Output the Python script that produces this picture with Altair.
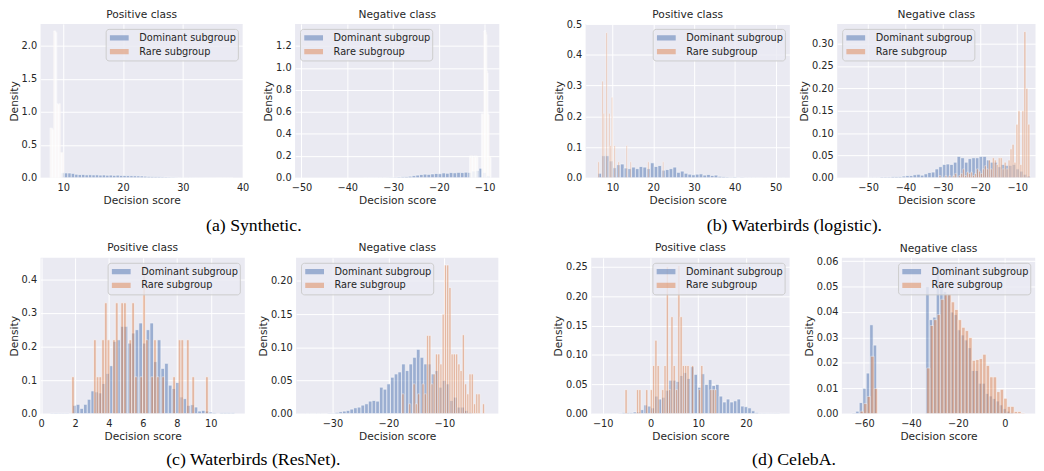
import altair as alt
import pandas as pd

FONT = "DejaVu Sans"
TEXT = "#262626"
BG = "#EAEAF2"
GROUPS = ["Dominant subgroup", "Rare subgroup"]
COLORS = ["#4C72B0", "#DD8452"]

# ---------------- (a) Synthetic ----------------
A_POS_DOM_START, A_POS_DOM_W = 9.6, 0.576
A_POS_DOM = [0.078, 0.075, 0.074, 0.068, 0.055, 0.050, 0.052, 0.046, 0.048, 0.045,
             0.046, 0.042, 0.044, 0.040, 0.042, 0.038, 0.041, 0.037, 0.036, 0.034,
             0.033, 0.031, 0.030, 0.028, 0.025, 0.022, 0.021, 0.019, 0.017, 0.015,
             0.013, 0.011, 0.009, 0.007, 0.005, 0.004, 0.003, 0.002, 0.002, 0.001,
             0.001, 0.0008, 0.0006, 0.0005, 0.0005, 0.0004, 0.0003, 0.0003, 0.0002, 0.0002]
A_POS_RARE_START, A_POS_RARE_W = 7.8, 0.1
A_POS_RARE = [0.75, 0.75, 0.74, 0.75, 0.73, 0.72,
              2.22, 2.23, 2.22, 2.21, 2.20,
              1.12, 1.12, 1.11, 1.10, 1.12, 1.12,
              0.38, 0.38, 0.37, 0.38, 0.38]

A_NEG_DOM_START, A_NEG_DOM_W = -49.4, 0.812
A_NEG_DOM = [0, 0, 0, 0, 0, 0, 0, 0, 0, 0,
             0, 0, 0, 0, 0, 0, 0.001, 0.001, 0.001, 0.001,
             0.003, 0.002, 0.004, 0.005, 0.006, 0.008, 0.010, 0.012, 0.015, 0.020,
             0.025, 0.030, 0.034, 0.032, 0.036, 0.040, 0.038, 0.045, 0.042, 0.048,
             0.046, 0.050, 0.048, 0.052, 0.050, 0.062, 0.068, 0.088, 0.050, 0.020]
A_NEG_RARE_START, A_NEG_RARE_W = -13.3, 0.13
A_NEG_RARE = [0.19, 0.20, 0.18, 0.19, 0.20, 0.19, 0.18, 0.19, 0.20, 0.19, 0.18, 0.20, 0.19, 0.19,
              0, 0, 0, 0, 0, 0,
              0.58, 0.58, 0.57, 0.58,
              1.33, 1.34, 1.34, 1.32, 1.30,
              0.97, 0.95,
              0.58, 0.57,
              0.19, 0.19, 0.18]

# ---------------- (b) Waterbirds (logistic) ----------------
B_POS_DOM_START, B_POS_DOM_W = 6.4, 0.92
B_POS_DOM = [0.015, 0.072, 0.072, 0.055, 0.033, 0.043, 0.045, 0.032, 0.030, 0.035,
             0.030, 0.037, 0.035, 0.030, 0.049, 0.037, 0.040, 0.025, 0.027, 0.030,
             0.035, 0.018, 0.022, 0.015, 0.012, 0.010, 0.012, 0.013, 0.009, 0.011,
             0.008, 0.009, 0.005, 0.004, 0.003, 0.002, 0.003, 0.001, 0.002, 0.001,
             0.001, 0.0005, 0.0005, 0.0005, 0, 0.0005, 0, 0, 0, 0.0005]
B_POS_RARE_START, B_POS_RARE_W = 6.4, 0.33
B_POS_RARE = [0.0525, 0, 0, 0.315, 0.21, 0, 0.4725, 0, 0.21, 0.105,
              0.2625, 0, 0.105, 0, 0, 0.0525, 0, 0, 0, 0,
              0, 0.105, 0, 0, 0.0525, 0, 0, 0, 0, 0,
              0, 0, 0, 0, 0, 0, 0, 0.0525, 0, 0,
              0, 0, 0, 0, 0, 0, 0, 0, 0.0525]

B_NEG_DOM_START, B_NEG_DOM_W = -55.7, 0.985
B_NEG_DOM = [0, 0, 0, 0, 0, 0.001, 0.001, 0.001, 0.001, 0.002,
             0.002, 0.002, 0.003, 0.003, 0.003, 0.004, 0.005, 0.005, 0.007, 0.008,
             0.006, 0.009, 0.012, 0.013, 0.020, 0.025, 0.030, 0.031, 0.030, 0.035,
             0.048, 0.045, 0.035, 0.043, 0.045, 0.045, 0.048, 0.048, 0.040, 0.035,
             0.035, 0.025, 0.030, 0.028, 0.028, 0.030, 0.020, 0.015, 0.008, 0.004]
B_NEG_RARE_START, B_NEG_RARE_W = -31.0, 0.53
B_NEG_RARE = [0.005, 0, 0, 0.005, 0, 0.005, 0, 0.005, 0.010, 0,
              0.005, 0.010, 0.020, 0.005, 0.013, 0.010, 0.013, 0.005, 0.010, 0.020,
              0.015, 0.010, 0.020, 0.027, 0.020, 0.040, 0.020, 0.045, 0.040, 0.030,
              0.045, 0.045, 0.020, 0.035, 0.020, 0.040, 0.065, 0.075, 0.035, 0.120,
              0.150, 0.030, 0.150, 0.327, 0.200, 0.120]

# ---------------- (c) Waterbirds (ResNet) ----------------
C_POS_DOM_START, C_POS_DOM_W = 0.55, 0.217
C_POS_DOM = [0.002, 0.002, 0.002, 0.002, 0.002, 0, 0.025, 0.028, 0.016, 0.028,
             0.043, 0.068, 0.065, 0.062, 0.090, 0.120, 0.143, 0.215, 0.220, 0.260,
             0.260, 0.210, 0.240, 0.250, 0.270, 0.210, 0.250, 0.270, 0.155, 0.220,
             0.135, 0.150, 0.085, 0.075, 0.093, 0.050, 0.045, 0.025, 0.027, 0.020,
             0.008, 0.010, 0.008, 0.005, 0.003, 0, 0.003, 0.003, 0.003, 0.003]
C_POS_RARE_START, C_POS_RARE_W = 1.80, 0.161
C_POS_RARE = [0.11, 0, 0, 0, 0, 0, 0, 0, 0.22, 0.11,
              0.11, 0.22, 0.33, 0.22, 0, 0.22, 0.33, 0, 0.33, 0.33,
              0, 0.22, 0.33, 0.11, 0, 0.11, 0.44, 0.22, 0, 0.11,
              0.22, 0.11, 0, 0.11, 0, 0, 0, 0.11, 0, 0.22,
              0.22, 0, 0.22, 0, 0.11, 0, 0, 0, 0, 0.11]

C_NEG_DOM_START, C_NEG_DOM_W = -34.8, 0.66
C_NEG_DOM = [0.0005, 0.0005, 0.0005, 0.0005, 0.0005, 0.0005, 0.001, 0.001, 0.002, 0.003,
             0.004, 0.005, 0.007, 0.009, 0.010, 0.013, 0.015, 0.019, 0.020, 0.019,
             0.040, 0.037, 0.045, 0.055, 0.060, 0.063, 0.075, 0.065, 0.075, 0.085,
             0.097, 0.085, 0.075, 0.075, 0.060, 0.065, 0.040, 0.050, 0.045, 0.020,
             0.025, 0.010, 0.010, 0.005, 0.002]
C_NEG_RARE_START, C_NEG_RARE_W = -17.6, 0.4
C_NEG_RARE = [0.030, 0, 0, 0.015, 0, 0.045, 0.015, 0.030, 0, 0.045,
              0.030, 0.118, 0.118, 0.045, 0.060, 0.090, 0.090, 0.075, 0.150, 0.224,
              0.224, 0.190, 0.090, 0.090, 0.090, 0.075, 0.065, 0.119, 0.045, 0.030,
              0.060, 0.060, 0.015, 0.030, 0.030, 0, 0.015]

# ---------------- (d) CelebA ----------------
D_POS_DOM_START, D_POS_DOM_W = -10.4, 0.75
D_POS_DOM = [0.0005, 0.0005, 0.0005, 0.0005, 0.0005, 0.001, 0.002, 0.002, 0.002, 0.003,
             0.003, 0.007, 0.015, 0.013, 0.010, 0.030, 0.025, 0.028, 0.040, 0.057,
             0.057, 0.055, 0.065, 0.070, 0.060, 0.080, 0.067, 0.045, 0.068, 0.050,
             0.058, 0.048, 0.050, 0.030, 0.020, 0.025, 0.020, 0.022, 0.025, 0.013,
             0.012, 0.010, 0.005, 0.002, 0.001, 0.001, 0.001, 0.001, 0.001, 0.001]
D_POS_RARE_START, D_POS_RARE_W = -5.35, 0.48
D_POS_RARE = [0.041, 0, 0, 0, 0, 0.041, 0.041, 0, 0, 0.041,
              0, 0.041, 0.082, 0.125, 0.082, 0, 0.041, 0.082, 0.250, 0.041,
              0.165, 0.082, 0.041, 0.252, 0.165, 0.082, 0.082, 0.082, 0, 0.082,
              0, 0, 0.041, 0.082, 0, 0, 0, 0.041, 0.041, 0.041]

D_NEG_DOM_START, D_NEG_DOM_W = -65.0, 1.49
D_NEG_DOM = [0.0003, 0.001, 0.0044, 0.010, 0.016, 0.035, 0.027, 0, 0, 0,
             0, 0, 0, 0, 0, 0, 0, 0, 0, 0,
             0, 0.050, 0.037, 0.038, 0.058, 0.050, 0.048, 0.047, 0.040, 0.039,
             0.033, 0.031, 0.029, 0.026, 0.017, 0.017, 0.012, 0.012, 0.008, 0.007,
             0.006, 0.005, 0.0035, 0.002, 0.001, 0.0005, 0, 0, 0, 0]
D_NEG_RARE_START, D_NEG_RARE_W = -64.6, 1.49
D_NEG_RARE = [0, 0, 0.001, 0.004, 0.0068, 0.0226, 0.0099, 0, 0, 0,
              0, 0, 0, 0, 0, 0, 0, 0, 0, 0,
              0, 0.018, 0.0347, 0.037, 0.039, 0.045, 0.047, 0.047, 0.044, 0.041,
              0.037, 0.034, 0.0327, 0.030, 0.021, 0.0213, 0.0217, 0.0234, 0.019, 0.0145,
              0.0145, 0.0087, 0.0096, 0.0061, 0.0029, 0.0029, 0.0009, 0.0009, 0.0003, 0]


def hist_rows(start, width, heights, group, edge):
    out = []
    for i, h in enumerate(heights):
        if h > 0:
            out.append({"x0": start + i * width, "x1": start + (i + 1) * width,
                        "h": h, "grp": group, "edge": edge})
    return out


TITLE_SHIFT = -7.0


def panel(title, dom, rare, xdom, xticks, ydom, yticks, yfmt, orient, width,
          height=158, title_offset=2.7, rare_edge=0.7):
    df = pd.DataFrame(hist_rows(*dom, GROUPS[0], 0.7) +
                      hist_rows(*rare, GROUPS[1], rare_edge))
    legend = alt.Legend(
        title=None, orient=orient, offset=5, padding=2,
        fillColor="rgba(234,234,242,0.8)", strokeColor="#CCCCCC", cornerRadius=3,
        symbolType="M-1,-0.28H1V0.28H-1Z", symbolSize=361, symbolOpacity=0.5,
        symbolStrokeWidth=0, clipHeight=14, symbolOffset=2.3, rowPadding=0,
        labelFont=FONT, labelFontSize=9.9, labelColor=TEXT, labelOffset=10.7,
    )
    return alt.Chart(df).mark_bar(
        opacity=0.5, stroke="white", clip=True
    ).encode(
        x=alt.X("x0:Q", scale=alt.Scale(domain=xdom, nice=False, zero=False, padding=0),
                axis=alt.Axis(values=xticks, format="d", title="Decision score",
                              labelPadding=5, titlePadding=2, labelFlush=False,
                              labelOverlap=False)),
        x2="x1",
        y=alt.Y("h:Q", stack=False,
                scale=alt.Scale(domain=ydom, nice=False, zero=True, padding=0),
                axis=alt.Axis(values=yticks, format=yfmt, title="Density",
                              labelPadding=4, titlePadding=2, labelOverlap=False)),
        y2=alt.datum(0),
        color=alt.Color("grp:N", scale=alt.Scale(domain=GROUPS, range=COLORS),
                        legend=legend),
        strokeWidth=alt.StrokeWidth("edge:Q", scale=None),
    ).properties(
        width=width, height=height,
        title=alt.Title(title, fontSize=10.8, font=FONT, fontWeight="normal",
                        color=TEXT, offset=title_offset + TITLE_SHIFT,
                        baseline="alphabetic", frame="group", anchor="middle"),
    )


def group(left, right, caption, spacing, cap_offset):
    return alt.hconcat(
        left, right, spacing=spacing, bounds="flush",
        title=alt.Title(caption, orient="bottom", fontSize=18, font="Liberation Serif",
                        fontWeight="normal", color="black", offset=cap_offset,
                        baseline="top", anchor="middle"),
    ).resolve_scale(color="independent")


p1 = panel("Positive class", (A_POS_DOM_START, A_POS_DOM_W, A_POS_DOM),
           (A_POS_RARE_START, A_POS_RARE_W, A_POS_RARE),
           [6.2, 40.03], [10, 20, 30, 40], [0, 2.334], [0, 0.5, 1.0, 1.5, 2.0], ".1f",
           "top-right", 205, height=156, rare_edge=1.1)
p2 = panel("Negative class", (A_NEG_DOM_START, A_NEG_DOM_W, A_NEG_DOM),
           (A_NEG_RARE_START, A_NEG_RARE_W, A_NEG_RARE),
           [-51.4, -6.8], [-50, -40, -30, -20, -10], [0, 1.40],
           [0, 0.2, 0.4, 0.6, 0.8, 1.0, 1.2], ".1f", "top-left", 207, height=156,
           rare_edge=1.1)
p3 = panel("Positive class", (B_POS_DOM_START, B_POS_DOM_W, B_POS_DOM),
           (B_POS_RARE_START, B_POS_RARE_W, B_POS_RARE),
           [3.4, 53.5], [10, 20, 30, 40, 50], [0, 0.5005],
           [0, 0.1, 0.2, 0.3, 0.4, 0.5], ".1f", "top-right", 207, height=156,
           title_offset=-2.3)
p4 = panel("Negative class", (B_NEG_DOM_START, B_NEG_DOM_W, B_NEG_DOM),
           (B_NEG_RARE_START, B_NEG_RARE_W, B_NEG_RARE),
           [-58.3, -5.1], [-50, -40, -30, -20, -10], [0, 0.344],
           [0, 0.05, 0.10, 0.15, 0.20, 0.25, 0.30], ".2f", "top-left", 201, height=156)
p5 = panel("Positive class", (C_POS_DOM_START, C_POS_DOM_W, C_POS_DOM),
           (C_POS_RARE_START, C_POS_RARE_W, C_POS_RARE),
           [-0.03, 12.0], [0, 2, 4, 6, 8, 10], [0, 0.4636],
           [0, 0.1, 0.2, 0.3, 0.4], ".1f", "top-right", 207)
p6 = panel("Negative class", (C_NEG_DOM_START, C_NEG_DOM_W, C_NEG_DOM),
           (C_NEG_RARE_START, C_NEG_RARE_W, C_NEG_RARE),
           [-36.5, -0.35], [-30, -20, -10], [0, 0.2347],
           [0, 0.05, 0.10, 0.15, 0.20], ".2f", "top-left", 205)
p7 = panel("Positive class", (D_POS_DOM_START, D_POS_DOM_W, D_POS_DOM),
           (D_POS_RARE_START, D_POS_RARE_W, D_POS_RARE),
           [-12.4, 29.1], [-10, 0, 10, 20], [0, 0.265],
           [0, 0.05, 0.10, 0.15, 0.20, 0.25], ".2f", "top-right", 201)
p8 = panel("Negative class", (D_NEG_DOM_START, D_NEG_DOM_W, D_NEG_DOM),
           (D_NEG_RARE_START, D_NEG_RARE_W, D_NEG_RARE),
           [-69.4, 12.9], [-60, -40, -20, 0], [0, 0.0613],
           [0, 0.01, 0.02, 0.03, 0.04, 0.05, 0.06], ".2f", "top-right", 196,
           title_offset=1.0)

row1 = alt.hconcat(
    group(p1, p2, "(a) Synthetic.", 53, 12.5),
    group(p3, p4, "(b) Waterbirds (logistic).", 48, 12.5),
    spacing=54.5,
).resolve_scale(color="independent")
row2 = alt.hconcat(
    group(p5, p6, "(c) Waterbirds (ResNet).", 52, 10.5),
    group(p7, p8, "(d) CelebA.", 53, 10.5),
    spacing=55.2,
).resolve_scale(color="independent")

chart = alt.vconcat(row1, row2, spacing=6.1).resolve_scale(
    color="independent"
).properties(
    padding={"top": -3, "left": 0, "right": 0, "bottom": 0}
).configure_view(
    fill=BG, strokeWidth=0
).configure_axis(
    domain=False, ticks=False, tickSize=0, grid=True, gridColor="white", gridWidth=1,
    labelFont=FONT, labelFontSize=9.9, labelColor=TEXT,
    titleFont=FONT, titleFontSize=10.8, titleFontWeight="normal", titleColor=TEXT,
)

chart.save("out.html", embed_options={"renderer": "svg", "actions": False})
